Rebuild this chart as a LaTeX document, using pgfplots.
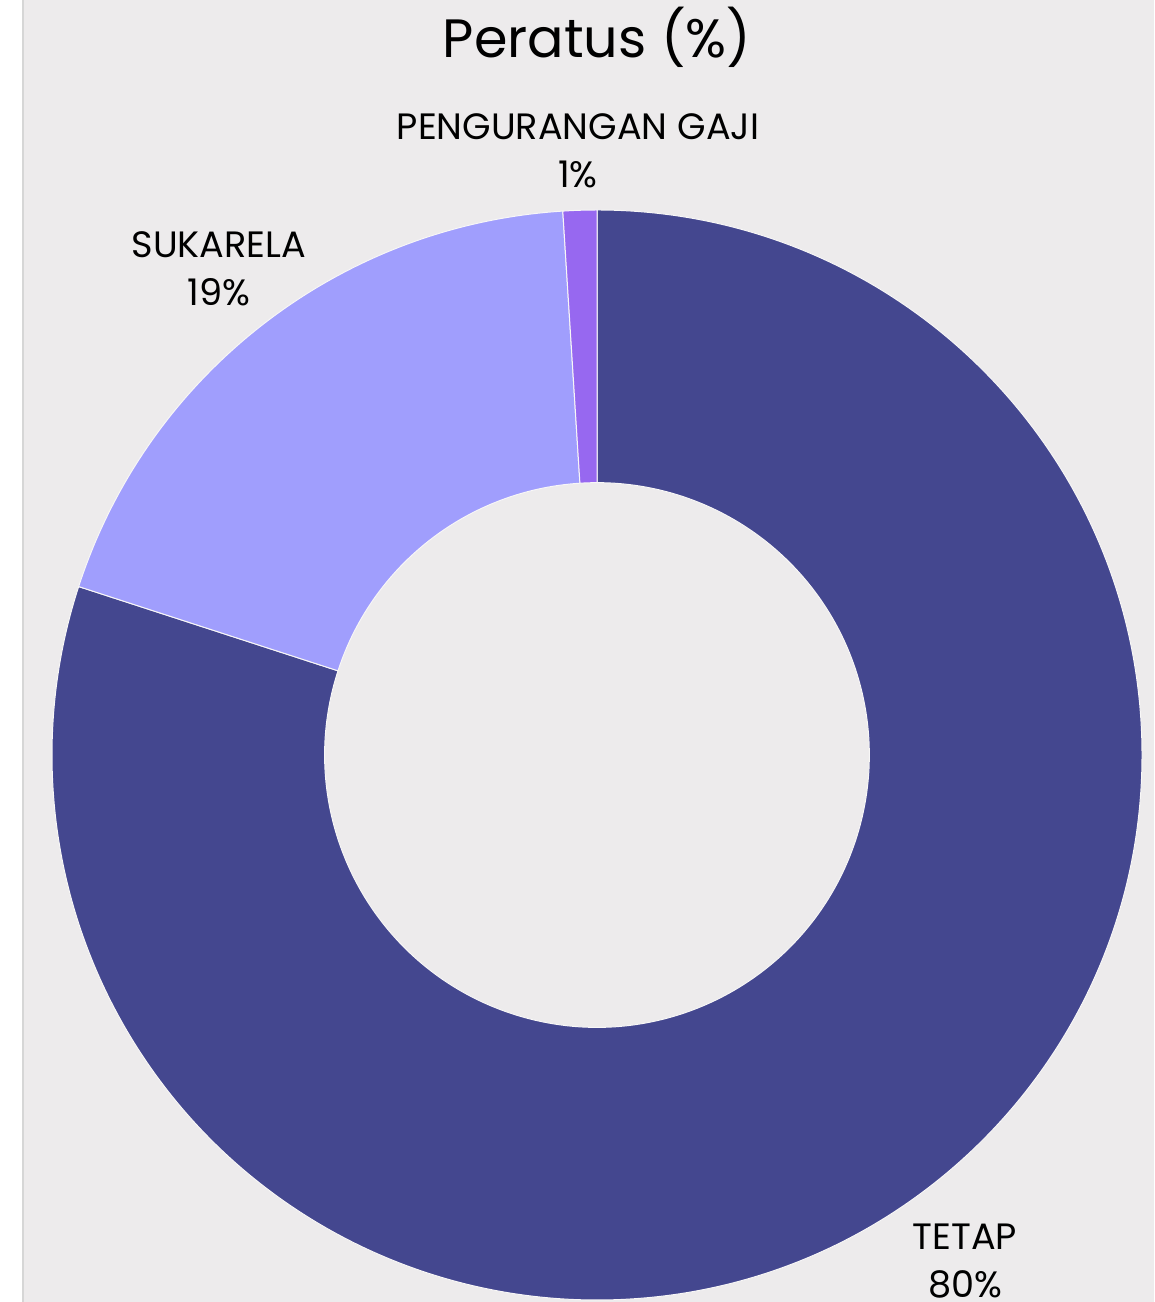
\documentclass[border=0pt]{standalone}
\usepackage{pgfplots}
\pgfplotsset{compat=1.18}
\usepackage{pgfplotstable}
\usepackage{fontspec}
\setmainfont{Poppins}
\definecolor{bg}{RGB}{237,235,236}
\definecolor{cTetap}{RGB}{68,71,143}
\definecolor{cSuka}{RGB}{160,158,253}
\definecolor{cGaji}{RGB}{151,104,240}
\definecolor{edge}{RGB}{214,214,214}
\pgfplotstableread{
label value
TETAP 80
SUKARELA 19
GAJI 1
}\piedata
\begin{document}
\begin{tikzpicture}
\pgfplotstablegetelem{0}{value}\of\piedata \let\vA\pgfplotsretval
\pgfplotstablegetelem{1}{value}\of\piedata \let\vB\pgfplotsretval
\pgfplotstablegetelem{2}{value}\of\piedata \let\vC\pgfplotsretval
\pgfmathsetmacro\aS{90}
\pgfmathsetmacro\aA{90-3.6*\vA}
\pgfmathsetmacro\aB{\aA-3.6*\vB}
\pgfmathsetmacro\aC{\aB-3.6*\vC}
\def\Ro{163.5pt}
\def\Ri{81.7pt}
\newcommand\slice[3]{%
  \fill[#3, draw=white!60!bg, line width=0.3pt] ([shift={(#1:\Ro)}]axis cs:597,547) arc[start angle=#1, end angle=#2, radius=\Ro]
   -- ([shift={(#2:\Ri)}]axis cs:597,547) arc[start angle=#2, end angle=#1, radius=\Ri] -- cycle;}
\begin{axis}[
  width=346.2pt, height=390.6pt, scale only axis,
  xmin=0, xmax=1154, ymin=0, ymax=1302,
  hide axis, clip=false,
]
\fill[bg] (axis cs:22,0) rectangle (axis cs:1154,1302);
\draw[edge, line width=0.6pt] (axis cs:22.5,0) -- (axis cs:22.5,1302);
\slice{\aS}{\aA}{cTetap}
\slice{\aA}{\aB}{cSuka}
\slice{\aB}{\aC}{cGaji}
\node[font=\fontsize{16.2}{19}\selectfont, anchor=base] at (axis cs:597,1244) {Peratus (\%)};
\node[font=\fontsize{11}{14.4}\selectfont, align=center] at (axis cs:578,1151) {PENGURANGAN GAJI\\1\%};
\node[font=\fontsize{11}{14.4}\selectfont, align=center] at (axis cs:219,1033) {SUKARELA\\19\%};
\node[font=\fontsize{11}{14.4}\selectfont, align=center] at (axis cs:965,41) {TETAP\\80\%};
\end{axis}
\pgfresetboundingbox
\useasboundingbox (current axis.south west) rectangle (current axis.north east);
\end{tikzpicture}
\end{document}
